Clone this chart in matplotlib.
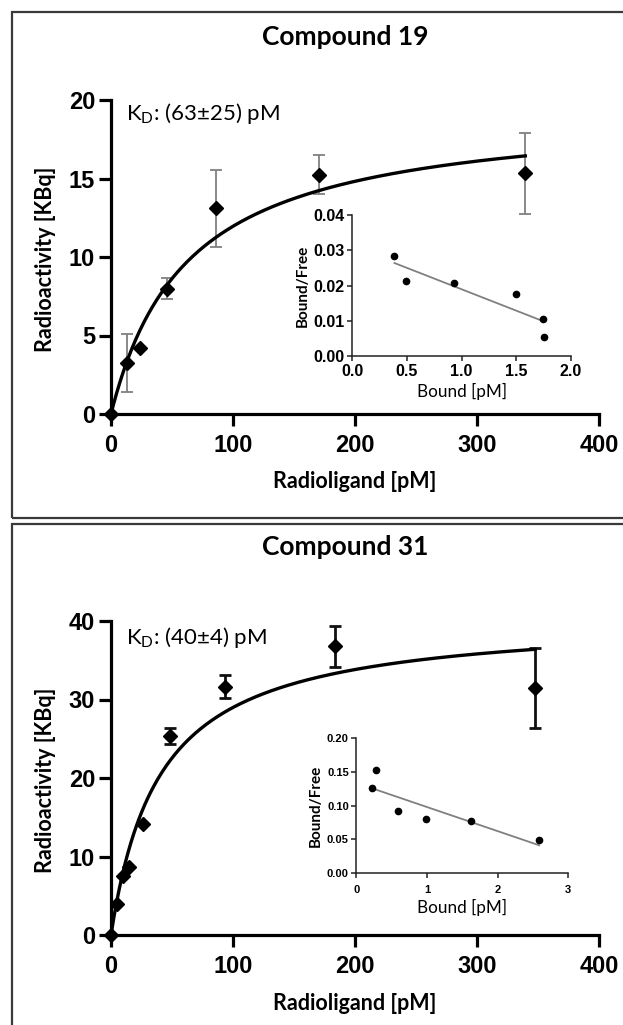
import numpy as np
import matplotlib
matplotlib.use("Agg")
import matplotlib.pyplot as plt
from matplotlib.patches import Rectangle

plt.rcParams['mathtext.fontset'] = 'custom'
plt.rcParams['mathtext.rm'] = 'Lato'
plt.rcParams['mathtext.it'] = 'Lato:italic'

# ---------------- data ----------------
titles = ["Compound 19", "Compound 31"]
kd_labels = ["(63±25) pM", "(40±4) pM"]

# Compound 19 saturation
c19_x = [0, 13.1, 23.5, 45.7, 86.4, 170.5, 339.6]
c19_y = [0, 3.26, 4.21, 7.98, 13.1, 15.24, 15.32]
c19_err = [0, 1.85, 0, 0.68, 2.47, 1.25, 2.59]
c19_kd = 63.0
c19_bmax = 19.49
# Compound 19 Scatchard
c19_bound = [0.385, 0.494, 0.927, 1.50, 1.745, 1.757]
c19_bf = [0.02845, 0.0213, 0.0206, 0.0177, 0.0104, 0.0053]

# Compound 31 saturation
c31_x = [0, 4.6, 10.1, 15.0, 26.4, 48.6, 93.2, 183.9, 347.5]
c31_y = [0, 3.9, 7.56, 8.7, 14.14, 25.35, 31.63, 36.8, 31.5]
c31_err = [0, 0, 0, 0, 0, 1.0, 1.5, 2.6, 5.1]
c31_kd = 40.0
c31_bmax = 40.58
# Compound 31 Scatchard
c31_bound = [0.214, 0.28, 0.59, 0.99, 1.62, 2.59]
c31_bf = [0.1262, 0.152, 0.0919, 0.0805, 0.0771, 0.0487]

main_yticks = [[0, 5, 10, 15, 20], [0, 10, 20, 30, 40]]
main_xticks = [0, 100, 200, 300, 400]
inset_xticks = [[0.0, 0.5, 1.0, 1.5, 2.0], [0, 1, 2, 3]]
inset_yticks = [[0.00, 0.01, 0.02, 0.03, 0.04], [0.00, 0.05, 0.10, 0.15, 0.20]]

# ---------------- layout ----------------
W, H = 623, 1025
fig = plt.figure(figsize=(W / 100, H / 100), dpi=100)


def frac(l, t, r, b):
    return [l / W, 1 - b / H, (r - l) / W, (b - t) / H]


LBL = 'Lato'
TICKF = 'Liberation Sans'

# panel borders
for (t, b) in [(11.5, 517.5), (524, 1040)]:
    fig.patches.append(Rectangle((11.5 / W, 1 - b / H), (640 - 11.5) / W, (b - t) / H,
                                 transform=fig.transFigure, fill=False,
                                 edgecolor='#3a3a3a', linewidth=1.6))

panels = [
    dict(main=frac(111, 100, 599, 414), inset=frac(352.4, 215, 570.9, 356),
         title_y=37, kd_y=113,
         x=c19_x, y=c19_y, err=c19_err, kd=c19_kd, bmax=c19_bmax,
         bx=c19_bound, by=c19_bf, ylim=20, ierr_col='#808080', ierr_lw=1.3,
         ixlim=2.0, iylim=0.04, itick=11.5, ifmt=['%.1f', '%.2f'], ilabpad=(2, 2)),
    dict(main=frac(111, 621, 599, 935), inset=frac(356.4, 737.7, 568.1, 873.3),
         title_y=547, kd_y=637,
         x=c31_x, y=c31_y, err=c31_err, kd=c31_kd, bmax=c31_bmax,
         bx=c31_bound, by=c31_bf, ylim=40, ierr_col='#111111', ierr_lw=2.0,
         ixlim=3, iylim=0.20, itick=8, ifmt=['%d', '%.2f'], ilabpad=(5, 4)),
]

for i, p in enumerate(panels):
    ax = fig.add_axes(p['main'])
    # fit curve
    xf = np.linspace(0, max(p['x']), 300)
    yf = p['bmax'] * xf / (p['kd'] + xf)
    ax.plot(xf, yf, color='black', lw=2.4, zorder=3, clip_on=False)
    # error bars
    xs = np.array(p['x']); ys = np.array(p['y']); es = np.array(p['err'])
    m = es > 0
    ax.errorbar(xs[m], ys[m], yerr=es[m], fmt='none', ecolor=p['ierr_col'],
                elinewidth=p['ierr_lw'], capsize=4.6, capthick=p['ierr_lw'], zorder=2)
    ax.plot(xs, ys, 'D', color='black', ms=7.0, zorder=4, clip_on=False)
    ax.set_xlim(0, 400)
    ax.set_ylim(0, p['ylim'])
    ax.set_xticks(main_xticks)
    ax.set_yticks(main_yticks[i])
    for s in ['top', 'right']:
        ax.spines[s].set_visible(False)
    for s in ['left', 'bottom']:
        ax.spines[s].set_linewidth(2.3)
    ax.tick_params(width=2.3, length=8.5, direction='out')
    ax.tick_params(axis='x', pad=6)
    ax.tick_params(axis='y', pad=3)
    for lab in ax.get_xticklabels() + ax.get_yticklabels():
        lab.set_fontfamily(TICKF)
        lab.set_fontweight('bold')
        lab.set_fontsize(17)
    ax.set_facecolor('none')

    # titles / labels in figure coords
    fig.text(345.5 / W, 1 - p['title_y'] / H, titles[i], ha='center', va='center',
             fontsize=19, fontweight='bold', family=LBL)
    top_px = 100 if i == 0 else 621
    bot_px = 414 if i == 0 else 935
    fig.text(45.7 / W, 1 - ((top_px + bot_px) / 2 + 2) / H, 'Radioactivity [KBq]', rotation=90,
             ha='center', va='center', fontsize=15.5, fontweight='bold', family=LBL)
    fig.text(355 / W, 1 - (bot_px + 68) / H, 'Radioligand [pM]', ha='center', va='center',
             fontsize=15.5, fontweight='bold', family=LBL)
    fig.text(126.5 / W, 1 - p['kd_y'] / H, r'$\mathrm{K_D}$: ' + kd_labels[i], ha='left',
             va='center', fontsize=16, family=LBL)

    # inset
    ia = fig.add_axes(p['inset'])
    bx = np.array(p['bx']); by = np.array(p['by'])
    coef = np.polyfit(bx, by, 1)
    lx = np.array([bx.min(), bx.max()])
    ia.plot(lx, np.polyval(coef, lx), color='#808080', lw=1.3, zorder=2)
    ia.plot(bx, by, 'o', color='black', ms=4.5, zorder=3, clip_on=False)
    ia.set_xlim(0, p['ixlim'])
    ia.set_ylim(0, p['iylim'])
    ia.set_xticks(inset_xticks[i])
    ia.set_yticks(inset_yticks[i])
    ia.xaxis.set_major_formatter(matplotlib.ticker.FormatStrFormatter(p['ifmt'][0]))
    ia.yaxis.set_major_formatter(matplotlib.ticker.FormatStrFormatter(p['ifmt'][1]))
    for s in ['top', 'right']:
        ia.spines[s].set_visible(False)
    for s in ['left', 'bottom']:
        ia.spines[s].set_linewidth(1.1)
        ia.spines[s].set_color('#222222')
    ia.tick_params(width=1.1, length=3.5, color='#222222', pad=2)
    ia.tick_params(axis='x', pad=p['ilabpad'][0])
    for lab in ia.get_xticklabels() + ia.get_yticklabels():
        lab.set_fontfamily(TICKF)
        lab.set_fontweight('bold')
        lab.set_fontsize(p['itick'])
    ia.set_facecolor('none')
    ia.set_ylabel('Bound/Free', fontsize=11, fontweight='bold', family=LBL, labelpad=3)
    ia.set_xlabel('Bound [pM]', fontsize=12.3, family=LBL, labelpad=3)

fig.savefig('out.png', dpi=100)
